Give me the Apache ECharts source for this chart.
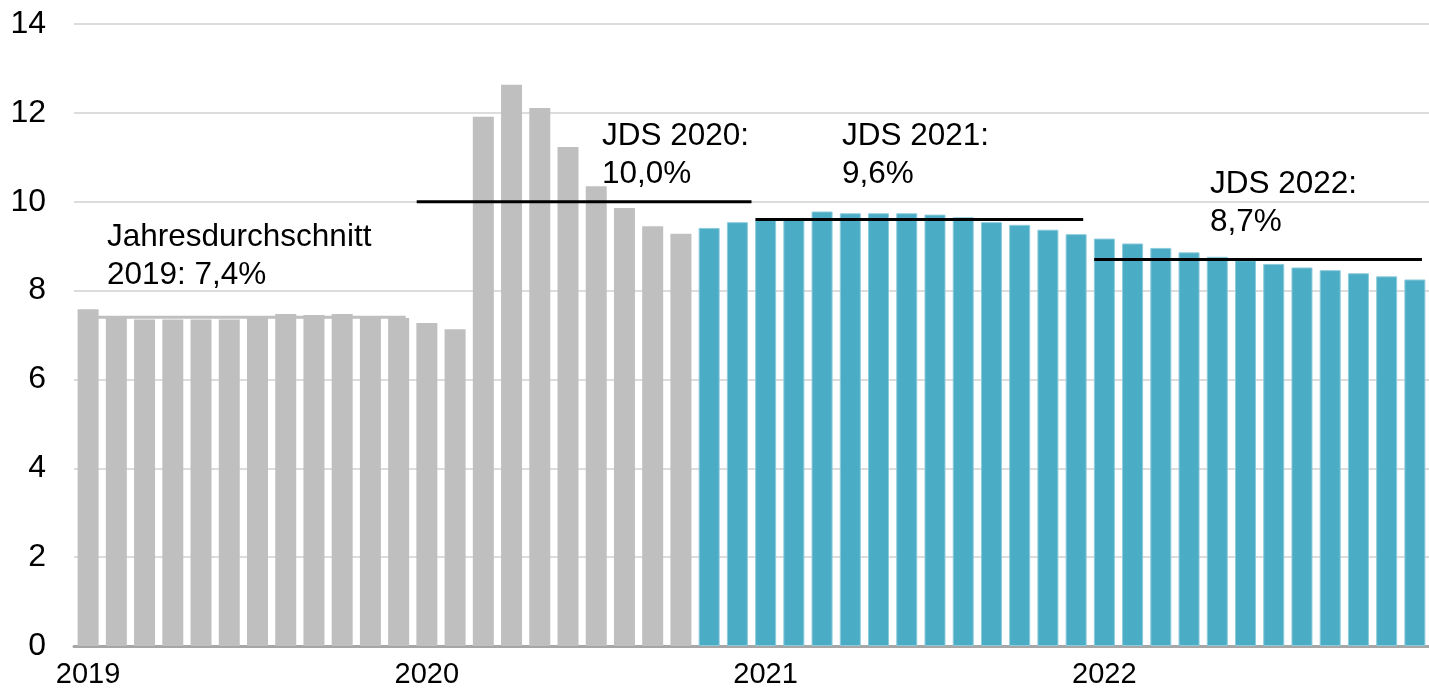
<!DOCTYPE html>
<html>
<head>
<meta charset="utf-8">
<script src="https://cdn.jsdelivr.net/npm/echarts@6/dist/echarts.min.js"></script>
<style>
  html, body { margin: 0; padding: 0; background: #fff; }
  #chart { width: 1429px; height: 691px; }
</style>
</head>
<body>
<div id="chart"></div>
<script>
// Monthly values 2019–2022, in percent
const years = ['2019', '2020', '2021', '2022'];
const months = ['Jan', 'Feb', 'Mär', 'Apr', 'Mai', 'Jun', 'Jul', 'Aug', 'Sep', 'Okt', 'Nov', 'Dez'];
const values2019 = [7.58, 7.38, 7.35, 7.35, 7.35, 7.35, 7.40, 7.47, 7.45, 7.47, 7.38, 7.38];
const values2020 = [7.27, 7.13, 11.91, 12.63, 12.11, 11.23, 10.35, 9.86, 9.45, 9.28, 9.41, 9.54];
const values2021 = [9.60, 9.60, 9.78, 9.74, 9.74, 9.74, 9.71, 9.65, 9.54, 9.48, 9.37, 9.27];
const values2022 = [9.17, 9.06, 8.96, 8.86, 8.76, 8.68, 8.60, 8.52, 8.46, 8.39, 8.32, 8.25];
// Annual averages (Jahresdurchschnitt)
const yearAverages = [7.4, 10.0, 9.6, 8.7];
const averageLabels = ['Jahresdurchschnitt\n2019: 7,4%', 'JDS 2020:\n10,0%', 'JDS 2021:\n9,6%', 'JDS 2022:\n8,7%'];
// First month shown in the second colour (Nov 2020)
const projectionStart = 22;
const yTicks = { min: 0, max: 14, step: 2 };

const GRAY = '#BFBFBF';
const TEAL = '#4BACC6';
const FONT = '"Liberation Sans", Arial, sans-serif';

const categories = [];
years.forEach(y => months.forEach(m => categories.push(m + ' ' + y)));
const allValues = [].concat(values2019, values2020, values2021, values2022);

const barData = allValues.map((v, i) => ({
  value: v,
  itemStyle: i < projectionStart
    ? { color: GRAY }
    : { color: TEAL, borderColor: '#8ccbdc', borderWidth: 1 }
}));

// One horizontal segment per year, spanning that year's twelve bars
const avgSeries = yearAverages.map((avg, k) => ({
  type: 'line',
  xAxisIndex: 1,
  yAxisIndex: 0,
  data: [[12 * k - 0.36, avg], [12 * k + 11 + (k === 1 ? 0.5 : 0.25), avg]],
  symbol: 'none',
  silent: true,
  z: k === 0 ? 1 : 5,
  lineStyle: { color: k === 0 ? GRAY : '#000', width: 3 }
}));

const chart = echarts.init(document.getElementById('chart'), null, { renderer: 'canvas' });

const annotationPos = [
  { left: 107, top: 218 },
  { left: 602, top: 117 },
  { left: 842, top: 117 },
  { left: 1210, top: 165 }
];

chart.setOption({
  animation: false,
  backgroundColor: '#fff',
  grid: { left: 74, right: 0, top: 24, bottom: 45, containLabel: false },
  xAxis: [
    {
      type: 'category',
      data: categories,
      axisLine: { show: true, lineStyle: { color: '#A6A6A6', width: 3 } },
      axisTick: { show: false },
      axisLabel: {
        interval: 0,
        formatter: (val, idx) => (idx % 12 === 0 ? years[idx / 12] : ''),
        color: '#000',
        fontFamily: FONT,
        fontSize: 29,
        margin: 14
      },
      splitLine: { show: false }
    },
    {
      type: 'value',
      min: -0.5,
      max: allValues.length - 0.5,
      show: false
    }
  ],
  yAxis: {
    type: 'value',
    min: yTicks.min,
    max: yTicks.max,
    interval: yTicks.step,
    axisLine: { show: false },
    axisTick: { show: false },
    axisLabel: { color: '#000', fontFamily: FONT, fontSize: 32, margin: 28 },
    splitLine: { lineStyle: { color: '#DCDCDC', width: 2 } }
  },
  series: [
    {
      type: 'bar',
      data: barData,
      barWidth: 21,
      z: 3
    }
  ].concat(avgSeries),
  graphic: averageLabels.map((txt, k) => ({
    type: 'text',
    left: annotationPos[k].left,
    top: annotationPos[k].top,
    z: 10,
    style: {
      text: txt,
      fill: '#000',
      font: '31.5px ' + FONT,
      lineHeight: 38.5
    }
  }))
});
</script>
</body>
</html>
